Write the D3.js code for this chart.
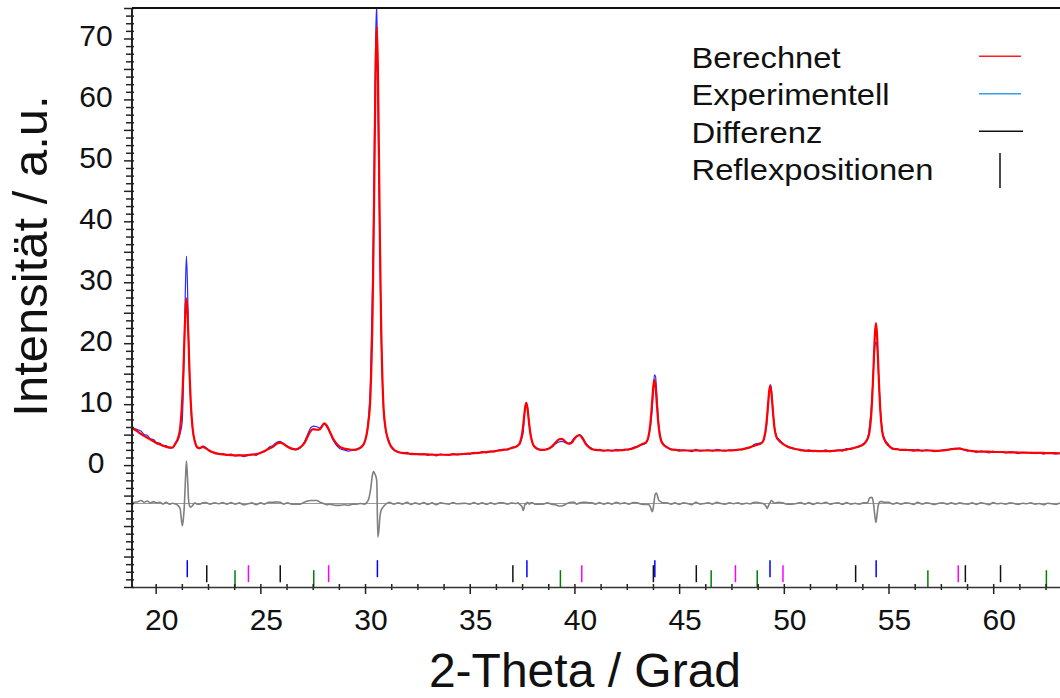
<!DOCTYPE html>
<html>
<head>
<meta charset="utf-8">
<title>Rietveld</title>
<script src="https://d3js.org/d3.v7.min.js"></script>
<style>
  body { margin: 0; background: #fff; }
  svg { display: block; font-family: "Liberation Sans", Arial, sans-serif; }
</style>
</head>
<body>
<svg width="1060" height="698"></svg>
<script>
// 2-theta grid (denser across the reflections)
var theta = [
  18.87, 19.0, 19.15, 19.3, 19.45, 19.6, 19.75, 19.9, 20.05, 20.2, 20.35, 20.5, 20.65, 20.8,
  20.95, 21.07, 21.17, 21.27, 21.32, 21.37, 21.42, 21.47, 21.52, 21.57, 21.62, 21.67, 21.77, 21.87, 21.97,
  22.1, 22.25, 22.4, 22.6, 22.8, 23.0, 23.2, 23.4, 23.6, 23.8, 24.0, 24.2, 24.4, 24.6, 24.8, 25.0, 25.2, 25.4,
  25.6, 25.8, 25.95, 26.1, 26.3, 26.5, 26.7, 26.9,
  27.1, 27.25, 27.4, 27.55, 27.7, 27.85, 27.95, 28.05, 28.15, 28.3, 28.45, 28.6, 28.8, 29.0, 29.2, 29.4, 29.6, 29.8,
  29.96, 30.16, 30.26, 30.36, 30.41, 30.46, 30.51, 30.56, 30.61, 30.66, 30.71, 30.76, 30.86, 30.96, 31.16, 31.36,
  31.6, 31.8, 32.0, 32.2, 32.4, 32.6, 32.8, 33.0, 33.2, 33.4, 33.6, 33.8, 34.0, 34.2, 34.4, 34.6, 34.8, 35.0, 35.2, 35.4, 35.6, 35.8, 36.0, 36.2, 36.4, 36.6, 36.8, 37.0, 37.2,
  37.3, 37.4, 37.5, 37.55, 37.6, 37.65, 37.7, 37.75, 37.8, 37.85, 37.9, 38.0, 38.1, 38.3,
  38.5, 38.7, 38.9, 39.1, 39.25, 39.4, 39.55, 39.7, 39.85, 40.0, 40.1, 40.25, 40.4, 40.55, 40.7, 40.85, 41.0,
  41.2, 41.4, 41.6, 41.8, 42.0, 42.2, 42.4, 42.6, 42.8, 43.0, 43.2,
  43.42, 43.52, 43.62, 43.67, 43.72, 43.77, 43.82, 43.87, 43.92, 43.97, 44.02, 44.12, 44.22, 44.42, 44.62,
  44.8, 45.0, 45.2, 45.4, 45.6, 45.8, 46.0, 46.2, 46.4, 46.6, 46.8, 47.0, 47.2, 47.4, 47.6, 47.8, 48.0, 48.2, 48.4, 48.6,
  48.95, 49.05, 49.15, 49.2, 49.25, 49.3, 49.35, 49.4, 49.45, 49.5, 49.55, 49.65, 49.75, 49.95, 50.15, 50.4, 50.6,
  50.8, 51.0, 51.2, 51.4, 51.6, 51.8, 52.0, 52.2, 52.4, 52.6, 52.8, 53.0, 53.2, 53.4, 53.6, 53.8,
  54.0, 54.1, 54.2, 54.25, 54.3, 54.35, 54.4, 54.45, 54.5, 54.55, 54.6, 54.7, 54.8, 55.0, 55.2,
  55.4, 55.6, 55.8, 56.0, 56.2, 56.4, 56.6, 56.8, 57.0, 57.2, 57.4, 57.6, 57.8, 58.0, 58.2, 58.4, 58.6, 58.8, 59.0, 59.2,
  59.4, 59.6, 59.8, 60.0, 60.2, 60.4, 60.6, 60.8, 61.0, 61.2, 61.4, 61.6, 61.8, 62.0, 62.2, 62.4, 62.6, 62.8, 63.0, 63.19
];
// Berechnet
var calc = [
  6.1, 5.8, 5.5, 5.1, 4.8, 4.5, 4.2, 3.9, 3.6, 3.4, 3.2, 3.0, 2.9, 2.85,
  3.6, 4.45, 6.05, 10.85, 15.1, 20.35, 25.25, 27.35, 25.2, 20.3, 15.0, 10.8, 5.9, 3.9, 3.0,
  2.8, 3.0, 2.75, 2.3, 2.0, 1.85, 1.75, 1.7, 1.65, 1.6, 1.6, 1.6, 1.65, 1.7, 1.8, 2.0, 2.3, 2.7,
  3.0, 3.55, 3.7, 3.5, 3.0, 2.7, 2.6, 2.9,
  3.6, 4.6, 5.6, 5.9, 5.8, 5.9, 6.4, 6.85, 6.6, 5.6, 4.5, 3.7, 3.0, 2.7, 2.6, 2.5, 2.6, 2.9,
  3.6, 7.0, 11.6, 25.2, 37.25, 52.1, 66.0, 71.9, 65.8, 51.9, 37.0, 24.8, 11.2, 6.5, 3.6, 2.6,
  2.1, 2.0, 1.9, 1.85, 1.8, 1.8, 1.75, 1.75, 1.7, 1.7, 1.7, 1.7, 1.7, 1.75, 1.75, 1.8, 1.85, 1.9, 1.95, 2.0, 2.1, 2.15, 2.2, 2.3, 2.4, 2.5, 2.6, 2.8, 3.0,
  3.2, 3.7, 5.1, 6.45, 8.05, 9.55, 10.2, 9.5, 8.0, 6.4, 5.1, 3.6, 3.0, 2.6,
  2.5, 2.6, 3.0, 3.7, 4.2, 4.3, 3.9, 3.5, 3.6, 4.3, 4.7, 4.9, 4.3, 3.4, 2.9, 2.6, 2.5,
  2.45, 2.4, 2.4, 2.4, 2.4, 2.45, 2.5, 2.6, 2.75, 3.0, 3.4,
  3.75, 4.45, 6.6, 8.5, 10.85, 13.0, 14.0, 13.0, 10.8, 8.4, 6.4, 4.2, 3.5, 2.9, 2.6,
  2.5, 2.45, 2.4, 2.4, 2.4, 2.4, 2.4, 2.4, 2.4, 2.4, 2.4, 2.4, 2.4, 2.4, 2.45, 2.5, 2.6, 2.75, 2.95, 3.2,
  3.65, 4.3, 6.25, 8.0, 10.1, 12.1, 13.0, 12.1, 10.1, 8.0, 6.25, 4.6, 4.1, 3.5, 3.1, 2.8, 2.6,
  2.45, 2.4, 2.35, 2.35, 2.3, 2.3, 2.3, 2.3, 2.35, 2.4, 2.45, 2.55, 2.7, 2.85, 3.1, 3.4,
  4.3, 5.65, 9.6, 13.15, 17.5, 21.5, 23.3, 21.5, 17.3, 13.0, 9.5, 5.5, 4.2, 3.2, 2.7,
  2.6, 2.5, 2.5, 2.45, 2.45, 2.4, 2.4, 2.4, 2.4, 2.35, 2.35, 2.4, 2.5, 2.6, 2.7, 2.7, 2.55, 2.4, 2.3, 2.25,
  2.2, 2.2, 2.2, 2.15, 2.15, 2.15, 2.1, 2.1, 2.1, 2.05, 2.05, 2.05, 2.0, 2.0, 2.0, 2.0, 1.95, 1.95, 1.95, 1.9
];
// Experimentell
var obs = [
  6.2, 6.0, 5.8, 5.6, 5.0, 4.9, 4.3, 4.2, 3.7, 3.6, 3.1, 3.2, 2.8, 2.9,
  3.5, 4.1, 5.2, 7.2, 12.5, 20.0, 29.0, 34.3, 29.5, 21.0, 14.6, 10.2, 5.6, 4.0, 2.9,
  2.7, 3.1, 2.9, 2.2, 2.1, 1.8, 1.9, 1.6, 1.8, 1.5, 1.7, 1.4, 1.6, 1.8, 1.6, 2.1, 2.2, 2.9,
  3.2, 3.8, 3.9, 3.4, 3.1, 2.6, 2.5, 2.8,
  3.8, 5.0, 6.1, 6.4, 6.3, 6.1, 6.5, 6.8, 6.4, 5.5, 4.3, 3.4, 2.7, 2.5, 2.3, 2.4, 2.5, 2.9,
  3.5, 7.6, 13.8, 30.0, 42.5, 57.0, 70.5, 75.6, 60.3, 47.5, 34.8, 23.6, 10.6, 6.3, 3.8, 2.5,
  2.2, 1.9, 2.1, 1.7, 1.9, 1.7, 1.9, 1.6, 1.8, 1.5, 1.8, 1.7, 1.6, 1.9, 1.7, 1.8, 1.9, 1.8, 2.1, 1.9, 2.2, 2.0, 2.3, 2.2, 2.5, 2.6, 2.5, 2.9, 3.0,
  3.3, 3.5, 4.6, 5.3, 7.4, 9.6, 10.1, 9.7, 8.1, 6.3, 5.2, 3.7, 2.9, 2.5,
  2.4, 2.7, 2.9, 3.5, 3.8, 3.9, 3.7, 3.6, 3.8, 4.5, 4.6, 5.0, 4.5, 3.6, 3.0, 2.7, 2.4,
  2.6, 2.3, 2.5, 2.3, 2.6, 2.4, 2.6, 2.5, 2.9, 3.1, 3.3,
  3.6, 4.3, 6.1, 7.5, 9.5, 12.4, 14.8, 14.6, 12.5, 9.6, 7.0, 4.5, 3.6, 3.0, 2.5,
  2.6, 2.3, 2.5, 2.4, 2.2, 2.6, 2.3, 2.4, 2.5, 2.3, 2.6, 2.4, 2.3, 2.5, 2.4, 2.6, 2.5, 2.8, 2.9, 3.4,
  3.7, 4.2, 5.8, 7.2, 9.6, 12.0, 13.2, 12.6, 10.5, 8.2, 6.3, 4.7, 4.3, 3.6, 3.0, 2.7, 2.6,
  2.6, 2.3, 2.5, 2.2, 2.4, 2.3, 2.5, 2.2, 2.4, 2.5, 2.3, 2.7, 2.6, 2.9, 3.0, 3.5,
  4.4, 6.6, 10.6, 13.8, 17.0, 19.4, 20.2, 19.6, 16.8, 13.1, 9.8, 5.8, 4.4, 3.4, 2.6,
  2.7, 2.4, 2.6, 2.5, 2.3, 2.6, 2.3, 2.5, 2.4, 2.2, 2.4, 2.5, 2.4, 2.7, 2.6, 2.8, 2.5, 2.3, 2.4, 2.1,
  2.3, 2.2, 2.0, 2.3, 2.1, 2.2, 2.0, 2.2, 2.1, 1.9, 2.1, 2.0, 2.1, 1.9, 2.0, 1.8, 2.0, 1.9, 1.8, 2.0
];
var diffOffset = -6.3;

// Reflexpositionen, one list per phase
var refBlue    = [21.51, 30.59, 37.73, 43.84, 49.34, 54.41];
var refBlack   = [22.44, 25.95, 37.06, 43.77, 45.82, 53.43, 58.67, 60.35];
var refMagenta = [24.43, 28.26, 40.35, 47.69, 49.96, 58.33];
var refGreen   = [23.79, 27.55, 39.33, 46.53, 48.73, 56.88, 62.54];

var xTicks = [20, 25, 30, 35, 40, 45, 50, 55, 60];
var yTicks = [0, 10, 20, 30, 40, 50, 60, 70];
var legendLabels = ['Berechnet', 'Experimentell', 'Differenz', 'Reflexpositionen'];

if (theta.length !== calc.length || theta.length !== obs.length) {
  console.error('length mismatch', theta.length, calc.length, obs.length);
}

var pL = 132, pR = 1060, pT = 8, pB = 587;
var x = d3.scaleLinear().domain([18.87, 63.19]).range([pL, pR]);
var y = d3.scaleLinear().domain([-20, 75]).range([pB, pT]);

var svg = d3.select('svg');

svg.append('clipPath').attr('id', 'plot')
  .append('rect').attr('x', pL).attr('y', pT).attr('width', pR - pL).attr('height', pB - pT);

var line = d3.line()
  .x(function(d) { return x(d[0]); })
  .y(function(d) { return y(d[1]); })
  .curve(d3.curveMonotoneX);

var obsData = theta.map(function(t, i) { return [t, obs[i]]; });
var calcData = theta.map(function(t, i) { return [t, calc[i]]; });
var diffData = theta.map(function(t, i) { return [t, obs[i] - calc[i] + diffOffset]; });

var g = svg.append('g').attr('clip-path', 'url(#plot)');

// zero line of the difference curve
g.append('line')
  .attr('x1', pL).attr('x2', pR)
  .attr('y1', y(diffOffset)).attr('y2', y(diffOffset))
  .attr('stroke', '#9a9a9a').attr('stroke-width', 1);

g.append('path').datum(diffData)
  .attr('d', line).attr('fill', 'none')
  .attr('stroke', '#808080').attr('stroke-width', 1.6);

g.append('path').datum(obsData)
  .attr('d', line).attr('fill', 'none')
  .attr('stroke', '#2b2bff').attr('stroke-width', 1.2);

g.append('path').datum(calcData)
  .attr('d', line).attr('fill', 'none')
  .attr('stroke', '#ff0000').attr('stroke-width', 2.2);

// reflection markers, three rows
var phases = [
  {pos: refBlue, color: '#0000ff', row: 0},
  {pos: refBlack, color: '#111111', row: 1},
  {pos: refMagenta, color: '#ff00ff', row: 1},
  {pos: refGreen, color: '#008000', row: 2}
];
phases.forEach(function(p) {
  var y0 = y(-15.6) + p.row * 5;
  g.selectAll(null).data(p.pos).enter()
    .append('line')
    .attr('x1', function(d) { return x(d); })
    .attr('x2', function(d) { return x(d); })
    .attr('y1', y0).attr('y2', y0 + 17)
    .attr('stroke', p.color).attr('stroke-width', 1.5);
});

// x axis
var xMinor = d3.range(18.75, 63.2, 1.25).filter(function(v) {
  return v >= 18.87 && xTicks.indexOf(v) < 0;
});
var gxm = svg.append('g').attr('transform', 'translate(0,' + pB + ')')
  .call(d3.axisBottom(x).tickValues(xMinor).tickFormat('').tickSizeOuter(0));
gxm.selectAll('.tick line').attr('y1', -3).attr('y2', 3).attr('stroke', '#222').attr('stroke-width', 1.5);
gxm.select('.domain').remove();

var gx = svg.append('g').attr('transform', 'translate(0,' + pB + ')')
  .call(d3.axisBottom(x).tickValues(xTicks).tickSizeOuter(0));
gx.select('.domain').attr('stroke', '#333').attr('stroke-width', 1.5);
gx.selectAll('.tick line').attr('y1', -3).attr('y2', 7).attr('stroke', '#222').attr('stroke-width', 1.5);
gx.selectAll('.tick text')
  .attr('y', 43).attr('dy', 0).attr('dx', 5.5)
  .attr('font-size', 30).attr('font-family', '"Liberation Sans", Arial, sans-serif')
  .attr('fill', '#111');

// y axis
var yMinor = d3.range(-20, 75.1, 1.25).filter(function(v) { return v % 5 !== 0; });
var yMid = d3.range(-20, 75.1, 5).filter(function(v) { return yTicks.indexOf(v) < 0; });
var gym = svg.append('g').attr('transform', 'translate(' + pL + ',0)')
  .call(d3.axisLeft(y).tickValues(yMinor).tickFormat('').tickSizeOuter(0));
gym.selectAll('.tick line').attr('x1', 2).attr('x2', -6).attr('stroke', '#222').attr('stroke-width', 1.5);
gym.select('.domain').remove();
var gy5 = svg.append('g').attr('transform', 'translate(' + pL + ',0)')
  .call(d3.axisLeft(y).tickValues(yMid).tickFormat('').tickSizeOuter(0));
gy5.selectAll('.tick line').attr('x1', 2).attr('x2', -8).attr('stroke', '#222').attr('stroke-width', 1.5);
gy5.select('.domain').remove();

var gy = svg.append('g').attr('transform', 'translate(' + pL + ',0)')
  .call(d3.axisLeft(y).tickValues(yTicks).tickSizeOuter(0));
gy.select('.domain').attr('d', 'M0,' + pT + 'V' + pB).attr('stroke', '#222').attr('stroke-width', 2);
gy.selectAll('.tick line').attr('x1', 2).attr('x2', -8).attr('stroke', '#222').attr('stroke-width', 1.5);
gy.selectAll('.tick text')
  .attr('x', -36).attr('dy', '0.24em').attr('text-anchor', 'middle')
  .attr('font-size', 30).attr('font-family', '"Liberation Sans", Arial, sans-serif')
  .attr('fill', '#111');

// top frame line
svg.append('line')
  .attr('x1', pL).attr('x2', pR).attr('y1', pT).attr('y2', pT)
  .attr('stroke', '#111').attr('stroke-width', 2);

// axis titles
svg.append('text')
  .attr('x', 585).attr('y', 687)
  .attr('text-anchor', 'middle').attr('font-size', 48).attr('fill', '#111')
  .text('2-Theta / Grad');
svg.append('text')
  .attr('transform', 'translate(47,256) rotate(-90)')
  .attr('text-anchor', 'middle').attr('font-size', 49).attr('fill', '#111')
  .text('Intensität / a.u.');

// legend
var legendWidths = [149, 198, 131, 242];
var legendColors = ['#ff2020', '#33a0e8', '#111111', '#111111'];
var lg = svg.append('g');
legendLabels.forEach(function(lab, i) {
  var by = 67.7 + i * 37.5;
  lg.append('text')
    .attr('x', 691.5).attr('y', by)
    .attr('font-size', 30).attr('fill', '#111')
    .attr('textLength', legendWidths[i]).attr('lengthAdjust', 'spacingAndGlyphs')
    .text(lab);
  if (i < 3) {
    lg.append('line')
      .attr('x1', 979).attr('x2', 1021 + (i === 2 ? 2 : 0))
      .attr('y1', by - 11.5).attr('y2', by - 11.5)
      .attr('stroke', legendColors[i]).attr('stroke-width', 1.5);
  } else {
    lg.append('line')
      .attr('x1', 1000).attr('x2', 1000)
      .attr('y1', 153).attr('y2', 188)
      .attr('stroke', legendColors[i]).attr('stroke-width', 1.5);
  }
});
</script>
</body>
</html>
